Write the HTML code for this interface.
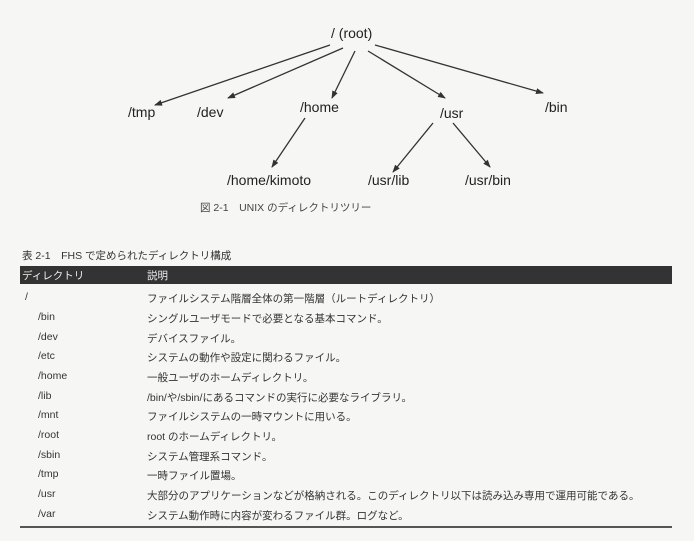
<!DOCTYPE html>
<html><head><meta charset="utf-8"><style>
body{margin:0;width:694px;height:541px;background:#f6f6f4;position:relative;overflow:hidden;font-family:"Liberation Sans","Noto Sans CJK JP",sans-serif;color:#222}
.t{position:absolute;white-space:nowrap}
.r{position:absolute;font-size:10.5px;white-space:nowrap;color:#333}
</style></head><body>
<svg width="694" height="541" style="position:absolute;left:0;top:0">
<defs><marker id="a" markerWidth="8" markerHeight="6" refX="7" refY="3" orient="auto" markerUnits="userSpaceOnUse"><path d="M0,0L8,3L0,6z" fill="#333"/></marker></defs>
<g stroke="#333" stroke-width="1.3" marker-end="url(#a)">
<line x1="330" y1="45" x2="155" y2="105"/>
<line x1="343" y1="48" x2="228" y2="98"/>
<line x1="355" y1="51" x2="332" y2="98"/>
<line x1="368" y1="51" x2="445" y2="98"/>
<line x1="375" y1="45" x2="543" y2="93"/>
<line x1="305" y1="118" x2="272" y2="167"/>
<line x1="433" y1="123" x2="393" y2="172"/>
<line x1="453" y1="123" x2="490" y2="167"/>
</g>
<g font-family="Liberation Sans,sans-serif" font-size="14" fill="#222">
<text x="331" y="38">/ (root)</text>
<text x="128" y="117">/tmp</text>
<text x="197" y="117">/dev</text>
<text x="300" y="112">/home</text>
<text x="440" y="118">/usr</text>
<text x="545" y="112">/bin</text>
<text x="227" y="185">/home/kimoto</text>
<text x="368" y="185">/usr/lib</text>
<text x="465" y="185">/usr/bin</text>
</g>
</svg>
<div class="t" style="left:200px;top:200px;font-size:10.5px;color:#444">図 2-1　UNIX のディレクトリツリー</div>
<div class="t" style="left:22px;top:248px;font-size:10.5px;color:#333">表 2-1　FHS で定められたディレクトリ構成</div>
<div style="position:absolute;left:20px;top:266px;width:652px;height:18px;background:#333"></div>
<div class="t" style="left:22px;top:268px;font-size:10.5px;color:#eee">ディレクトリ</div>
<div class="t" style="left:147px;top:268px;font-size:10.5px;color:#eee">説明</div>
<div class="r" style="left:25px;top:291px">/</div><div class="r" style="left:147px;top:291px">ファイルシステム階層全体の第一階層（ルートディレクトリ）</div>
<div class="r" style="left:38px;top:311px">/bin</div><div class="r" style="left:147px;top:311px">シングルユーザモードで必要となる基本コマンド。</div>
<div class="r" style="left:38px;top:331px">/dev</div><div class="r" style="left:147px;top:331px">デバイスファイル。</div>
<div class="r" style="left:38px;top:350px">/etc</div><div class="r" style="left:147px;top:350px">システムの動作や設定に関わるファイル。</div>
<div class="r" style="left:38px;top:370px">/home</div><div class="r" style="left:147px;top:370px">一般ユーザのホームディレクトリ。</div>
<div class="r" style="left:38px;top:390px">/lib</div><div class="r" style="left:147px;top:390px">/bin/や/sbin/にあるコマンドの実行に必要なライブラリ。</div>
<div class="r" style="left:38px;top:409px">/mnt</div><div class="r" style="left:147px;top:409px">ファイルシステムの一時マウントに用いる。</div>
<div class="r" style="left:38px;top:429px">/root</div><div class="r" style="left:147px;top:429px">root のホームディレクトリ。</div>
<div class="r" style="left:38px;top:449px">/sbin</div><div class="r" style="left:147px;top:449px">システム管理系コマンド。</div>
<div class="r" style="left:38px;top:468px">/tmp</div><div class="r" style="left:147px;top:468px">一時ファイル置場。</div>
<div class="r" style="left:38px;top:488px">/usr</div><div class="r" style="left:147px;top:488px">大部分のアプリケーションなどが格納される。このディレクトリ以下は読み込み専用で運用可能である。</div>
<div class="r" style="left:38px;top:508px">/var</div><div class="r" style="left:147px;top:508px">システム動作時に内容が変わるファイル群。ログなど。</div>
<div style="position:absolute;left:20px;top:526px;width:652px;height:2px;background:#555"></div>
</body></html>
